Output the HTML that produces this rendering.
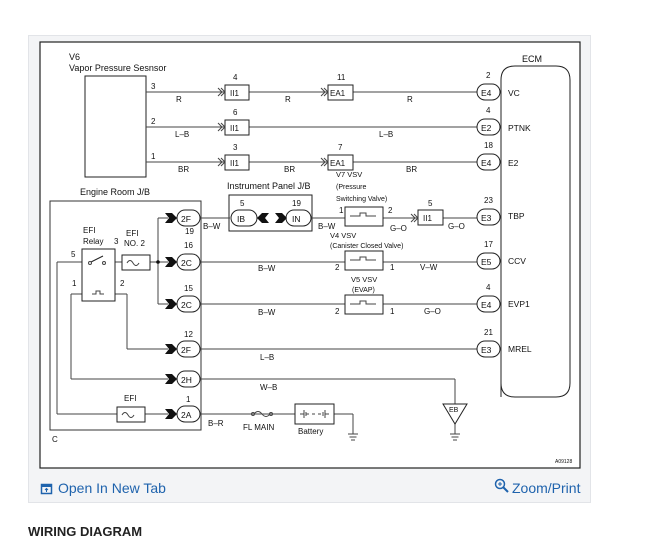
<!DOCTYPE html>
<html><head><meta charset="utf-8"><style>
body{margin:0;background:#fff;width:648px;height:545px;overflow:hidden;font-family:"Liberation Sans",sans-serif}
.card{position:absolute;left:28px;top:35px;width:563px;height:468px;background:#f3f4f6;border:1px solid #e2e4e8;box-sizing:border-box}
svg{position:absolute;left:0;top:0}
.f{position:absolute;top:480px;color:#1f63ad;font-size:14px}
.h{position:absolute;left:28px;top:524px;font-weight:bold;font-size:13px;color:#222}
</style></head><body>
<div class="card"></div>
<svg width="648" height="545" viewBox="0 0 648 545" font-family="Liberation Sans, sans-serif" font-size="8" fill="#111">
<rect x="40" y="42" width="540" height="426" fill="#fff" stroke="#222" stroke-width="1.2"/>
<g stroke="#444" stroke-width="1" fill="none">
<!-- sensor -->
<rect x="85" y="76" width="61" height="101" stroke="#222"/>
<line x1="146" y1="92" x2="477" y2="92"/>
<line x1="146" y1="127" x2="477" y2="127"/>
<line x1="146" y1="162" x2="477" y2="162"/>
<!-- ECM -->
<path d="M501 397 V80 Q501 66 515 66 H556 Q570 66 570 80 V383 Q570 397 556 397 H515 Q501 397 501 383" stroke="#222"/>
<!-- engine room JB -->
<rect x="50" y="201" width="151" height="229" stroke="#333"/>
<line x1="158" y1="218" x2="158" y2="304"/>
<line x1="158" y1="218" x2="168" y2="218"/><line x1="158" y1="304" x2="168" y2="304"/>
<line x1="57" y1="262" x2="168" y2="262"/>
<line x1="57" y1="262" x2="57" y2="414"/><line x1="57" y1="414" x2="168" y2="414"/>
<line x1="71" y1="294" x2="71" y2="379"/><line x1="71" y1="294" x2="82" y2="294"/><line x1="71" y1="379" x2="168" y2="379"/>
<line x1="115" y1="294" x2="127" y2="294"/><line x1="127" y1="294" x2="127" y2="349"/><line x1="127" y1="349" x2="168" y2="349"/>
<rect x="82" y="249" width="33" height="52" stroke="#222" fill="#fff"/>
<rect x="122" y="255" width="28" height="15" stroke="#222" fill="#fff"/>
<rect x="117" y="407" width="28" height="15" stroke="#222" fill="#fff"/>
<path d="M127 263 q3 -5 6 0 t6 0" /><path d="M122 415 q3 -5 6 0 t6 0"/>
<path d="M91 262 L103 256" stroke="#222"/><circle cx="90" cy="263" r="1.5"/><circle cx="104" cy="263" r="1.5"/>
<path d="M92 294 h4 v-3 h4 v3 h4"/>
<!-- IP JB -->
<rect x="229" y="195" width="83" height="36" stroke="#222"/>
<line x1="200" y1="218" x2="230" y2="218"/>
<line x1="311" y1="218" x2="477" y2="218"/>
<line x1="200" y1="262" x2="477" y2="262"/>
<line x1="200" y1="304" x2="477" y2="304"/>
<line x1="200" y1="349" x2="477" y2="349"/>
<line x1="200" y1="379" x2="455" y2="379"/><line x1="455" y1="379" x2="455" y2="404"/>
<line x1="200" y1="414" x2="295" y2="414"/>
<line x1="334" y1="414" x2="353" y2="414"/><line x1="353" y1="414" x2="353" y2="434"/>
<line x1="455" y1="424" x2="455" y2="434"/>
<path d="M348 434h10M349.5 437h7M351 440h4"/><path d="M450 434h10M451.5 437h7M453 440h4"/>
<path d="M443 404 h24 l-12 20z" stroke="#222" fill="#fff"/>
<rect x="295" y="404" width="39" height="20" stroke="#222" fill="#fff"/>
<path d="M300 414h4M304 410v8M306 412v4M306 414h3M312 414h3M318 414h3M323 412v4M325 410v8M325 414h4"/>
<path d="M250 414 h4 q4 -5 8 0 t8 0 h4"/><circle cx="253" cy="414" r="1.5"/><circle cx="271" cy="414" r="1.5"/>
<!-- VSVs -->
<rect x="345" y="207" width="38" height="19" stroke="#222" fill="#fff"/>
<rect x="345" y="251" width="38" height="19" stroke="#222" fill="#fff"/>
<rect x="345" y="295" width="38" height="19" stroke="#222" fill="#fff"/>
<path d="M350 216h10v-3h6v3h10M350 260h10v-3h6v3h10M350 304h10v-3h6v3h10"/>
<!-- II1/EA1 boxes -->
<g fill="#fff" stroke="#222">
<rect x="225" y="85" width="24" height="15"/><rect x="225" y="120" width="24" height="15"/><rect x="225" y="155" width="24" height="15"/>
<rect x="328" y="85" width="25" height="15"/><rect x="328" y="155" width="25" height="15"/>
<rect x="418" y="210" width="25" height="15"/>
<rect x="477" y="84" width="23" height="16" rx="8"/><rect x="477" y="119" width="23" height="16" rx="8"/><rect x="477" y="154" width="23" height="16" rx="8"/>
<rect x="477" y="209" width="23" height="16" rx="8"/><rect x="477" y="253" width="23" height="16" rx="8"/><rect x="477" y="296" width="23" height="16" rx="8"/><rect x="477" y="341" width="23" height="16" rx="8"/>
<rect x="177" y="210" width="23" height="16" rx="8"/><rect x="177" y="254" width="23" height="16" rx="8"/><rect x="177" y="296" width="23" height="16" rx="8"/><rect x="177" y="341" width="23" height="16" rx="8"/><rect x="177" y="371" width="23" height="16" rx="8"/><rect x="177" y="406" width="23" height="16" rx="8"/>
<rect x="231" y="210" width="26" height="16" rx="8"/><rect x="286" y="210" width="25" height="16" rx="8"/>
</g>
<path d="M218 88l4 4-4 4M221 88l4 4-4 4M218 123l4 4-4 4M221 123l4 4-4 4M218 158l4 4-4 4M221 158l4 4-4 4M321 88l4 4-4 4M324 88l4 4-4 4M321 158l4 4-4 4M324 158l4 4-4 4M411 214l4 4-4 4M414 214l4 4-4 4"/>
</g>
<g fill="#111">
<path d="M165 213h7l5 5-5 5h-7l4-5z"/><path d="M165 257h7l5 5-5 5h-7l4-5z"/><path d="M165 299h7l5 5-5 5h-7l4-5z"/><path d="M165 344h7l5 5-5 5h-7l4-5z"/><path d="M165 374h7l5 5-5 5h-7l4-5z"/><path d="M165 409h7l5 5-5 5h-7l4-5z"/>
<path d="M269 213h-7l-5 5 5 5h7l-4-5z"/><path d="M275 213h7l5 5-5 5h-7l4-5z"/>
<circle cx="158" cy="262" r="1.8"/>
</g>
<text x="69" y="60" font-size="9">V6</text><text x="69" y="71" font-size="9">Vapor Pressure Sesnsor</text>
<text x="522" y="62" font-size="9">ECM</text>
<text x="151" y="89">3</text><text x="151" y="124">2</text><text x="151" y="159">1</text>
<text x="176" y="102">R</text><text x="175" y="137">L–B</text><text x="178" y="172">BR</text>
<text x="285" y="102">R</text><text x="407" y="102">R</text><text x="379" y="137">L–B</text><text x="284" y="172">BR</text><text x="406" y="172">BR</text>
<text x="233" y="80">4</text><text x="233" y="115">6</text><text x="233" y="150">3</text><text x="337" y="80">11</text><text x="338" y="150">7</text>
<text x="230" y="96">II1</text><text x="230" y="131">II1</text><text x="230" y="166">II1</text><text x="330" y="96">EA1</text><text x="330" y="166">EA1</text><text x="423" y="221">II1</text>
<g font-size="8.5"><text x="481" y="96">E4</text><text x="481" y="131">E2</text><text x="481" y="166">E4</text><text x="481" y="221">E3</text><text x="481" y="265">E5</text><text x="481" y="308">E4</text><text x="481" y="353">E3</text>
<text x="508" y="96">VC</text><text x="508" y="131">PTNK</text><text x="508" y="166">E2</text><text x="508" y="219">TBP</text><text x="508" y="264">CCV</text><text x="508" y="307">EVP1</text><text x="508" y="352">MREL</text>
<text x="181" y="222">2F</text><text x="181" y="266">2C</text><text x="181" y="308">2C</text><text x="181" y="353">2F</text><text x="181" y="383">2H</text><text x="181" y="418">2A</text>
<text x="237" y="222">IB</text><text x="292" y="222">IN</text></g>
<text x="486" y="78">2</text><text x="486" y="113">4</text><text x="484" y="148">18</text><text x="484" y="203">23</text><text x="484" y="247">17</text><text x="486" y="290">4</text><text x="484" y="335">21</text>
<text x="185" y="234">19</text><text x="184" y="248">16</text><text x="184" y="291">15</text><text x="184" y="337">12</text><text x="186" y="402">1</text>
<text x="80" y="195" font-size="9">Engine Room J/B</text><text x="227" y="189" font-size="9">Instrument Panel J/B</text>
<text x="240" y="206">5</text><text x="292" y="206">19</text>
<text x="203" y="229">B–W</text><text x="318" y="229">B–W</text>
<text x="336" y="177" font-size="7.5">V7 VSV</text><text x="336" y="189" font-size="7">(Pressure</text><text x="336" y="201" font-size="7">Switching Valve)</text>
<text x="339" y="213">1</text><text x="388" y="213">2</text><text x="390" y="231">G–O</text><text x="448" y="229">G–O</text><text x="428" y="206">5</text>
<text x="330" y="238" font-size="7.5">V4 VSV</text><text x="330" y="248" font-size="7">(Canister Closed Valve)</text>
<text x="335" y="270">2</text><text x="390" y="270">1</text><text x="420" y="270">V–W</text>
<text x="351" y="282" font-size="7.5">V5 VSV</text><text x="352" y="292" font-size="7">(EVAP)</text>
<text x="335" y="314">2</text><text x="390" y="314">1</text><text x="424" y="314">G–O</text>
<text x="258" y="271">B–W</text><text x="258" y="315">B–W</text><text x="260" y="360">L–B</text><text x="260" y="390">W–B</text>
<text x="83" y="233">EFI</text><text x="83" y="244">Relay</text><text x="114" y="244">3</text><text x="126" y="236">EFI</text><text x="124" y="246">NO. 2</text>
<text x="71" y="257">5</text><text x="72" y="286">1</text><text x="120" y="286">2</text>
<text x="124" y="401">EFI</text><text x="208" y="426">B–R</text><text x="243" y="430">FL MAIN</text><text x="298" y="434">Battery</text>
<text x="449" y="412" font-size="7">EB</text><text x="52" y="442">C</text><text x="555" y="463" font-size="5">A09128</text>
</svg>
<svg width="14" height="14" style="left:40px;top:482px"><rect x="1.5" y="2.5" width="10" height="9" fill="none" stroke="#1f63ad" stroke-width="1.5"/><rect x="1.5" y="2.5" width="10" height="2.5" fill="#1f63ad"/><path d="M6.5 10V6.5M5 8l1.5-1.5L8 8" stroke="#1f63ad" fill="none"/></svg>
<div class="f" style="left:58px">Open In New Tab</div>
<svg width="16" height="16" style="left:494px;top:478px"><circle cx="6" cy="6" r="4.5" fill="none" stroke="#1f63ad" stroke-width="1.5"/><path d="M9.5 9.5L14 14" stroke="#1f63ad" stroke-width="2"/><path d="M6 4v4M4 6h4" stroke="#1f63ad"/></svg>
<div class="f" style="left:512px">Zoom/Print</div>
<div class="h">WIRING DIAGRAM</div>
</body></html>
